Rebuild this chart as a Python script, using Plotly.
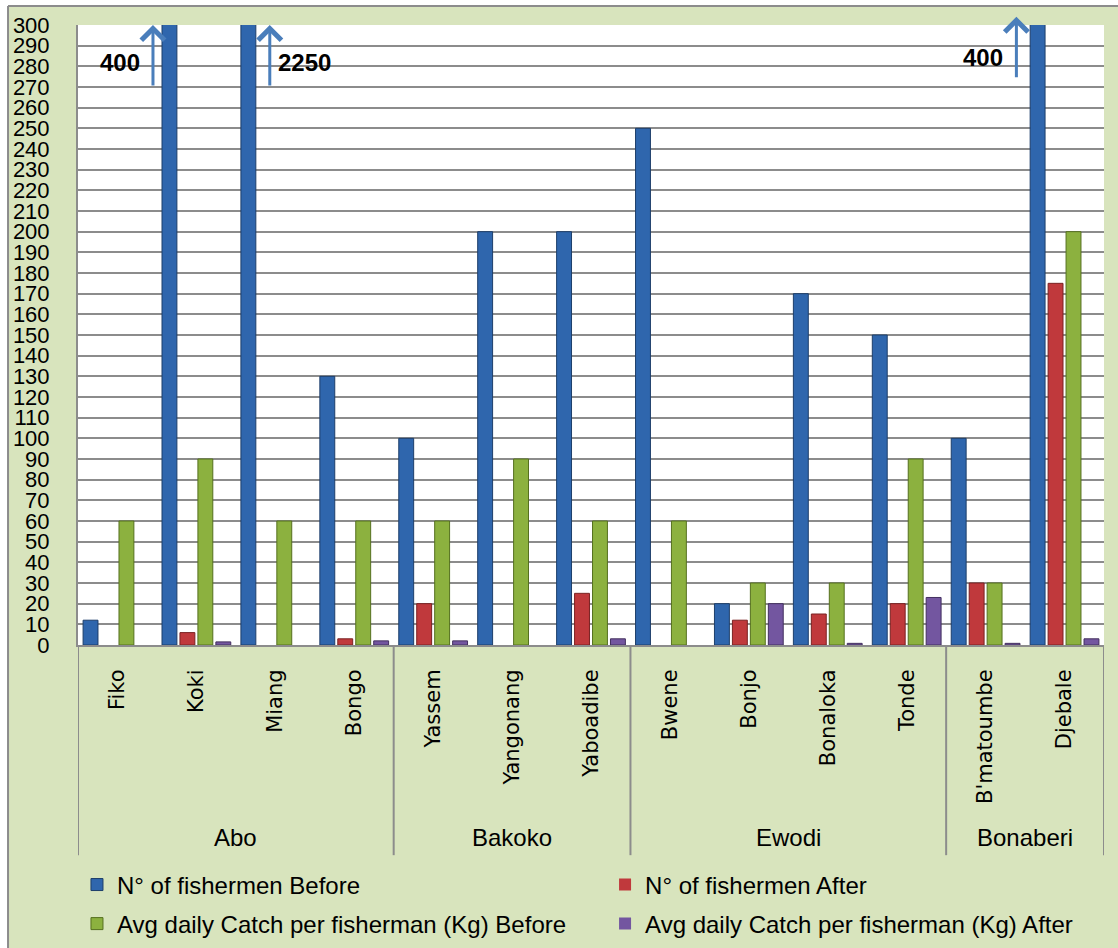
import plotly.graph_objects as go

# ---------------- data ----------------
groups = ["Abo", "Bakoko", "Ewodi", "Bonaberi"]
group_sizes = [4, 3, 4, 2]
villages = ["Fiko", "Koki", "Miang", "Bongo", "Yassem", "Yangonang", "Yaboadibe",
            "Bwene", "Bonjo", "Bonaloka", "Tonde", "B'matoumbe", "Djebale"]
fishermen_before = [12, 400, 2250, 130, 100, 200, 200, 250, 20, 170, 150, 100, 400]
fishermen_after = [0, 6, 0, 3, 20, 0, 25, 0, 12, 15, 20, 30, 175]
catch_before = [60, 90, 60, 60, 60, 90, 60, 60, 30, 30, 90, 30, 200]
catch_after = [0, 1.5, 0, 2, 2, 0, 3, 0, 20, 0.8, 23, 0.8, 3]
y_ticks = list(range(0, 301, 10))

series_names = ["N° of fishermen Before", "N° of fishermen After",
                "Avg daily Catch per fisherman (Kg) Before",
                "Avg daily Catch per fisherman (Kg) After"]
series_values = [fishermen_before, fishermen_after, catch_before, catch_after]
colors = ["#2f66ad", "#c0393c", "#8cb13f", "#7356a0"]
edge_colors = ["#1d3e6a", "#7a2222", "#55701f", "#43305f"]
legend_ids = ["legend", "legend2", "legend3", "legend4"]
legend_pos = [(-0.001, -0.387), (0.5137, -0.387), (-0.001, -0.45), (0.5137, -0.45)]

# off-scale labels: (x position in category units, tip y, tail y, label x, label y, text)
offscale = [
    (0.45, 300, 270, 0.03, 282, "400"),
    (1.93, 300, 270, 2.37, 282, "2250"),
    (11.39, 304, 274, 10.97, 284.5, "400"),
]

GRID = "#8c8c8c"
BG = "#d8e4bd"
TXT_FONT = "Liberation Sans, Arial"

fig = go.Figure()
for name, vals, c, ec, lg in zip(series_names, series_values, colors, edge_colors, legend_ids):
    fig.add_trace(go.Bar(
        x=villages, y=vals, name=name, legend=lg,
        marker=dict(color=c, line=dict(color=ec, width=[1 if v else 0 for v in vals])),
    ))

shapes = []
annotations = []

# group dividers and labels
bounds = [0]
for s in group_sizes:
    bounds.append(bounds[-1] + s)
for b in bounds:
    shapes.append(dict(type="line", xref="x", yref="paper", x0=b - 0.5, x1=b - 0.5,
                       y0=0, y1=-0.339, line=dict(color=GRID, width=2), layer="above"))
for g, s, start in zip(groups, group_sizes, bounds[:-1]):
    annotations.append(dict(text=g, xref="x", yref="paper", x=start + (s - 1) / 2, y=-0.311,
                            showarrow=False, yanchor="middle",
                            font=dict(family=TXT_FONT, size=24, color="black")))

# arrows for off-scale bars
for ax_x, tip, tail, lx, ly, txt in offscale:
    annotations.append(dict(x=ax_x, y=tip, ax=ax_x, ay=tail, xref="x", yref="y",
                            axref="x", ayref="y", showarrow=True, arrowhead=4,
                            arrowsize=1.5, arrowwidth=3, arrowcolor="#4a7ebb", text=""))
    annotations.append(dict(x=lx, y=ly, xref="x", yref="y", text="<b>" + txt + "</b>",
                            showarrow=False,
                            font=dict(family=TXT_FONT, size=24, color="black")))

# outer white margin + frame border of the chart area
shapes += [
    dict(type="rect", xref="paper", yref="paper", x0=-0.2, x1=-0.0682, y0=-0.6, y1=1.2,
         fillcolor="white", line=dict(width=0), layer="below"),
    dict(type="rect", xref="paper", yref="paper", x0=-0.2, x1=1.2, y0=1.0306, y1=1.2,
         fillcolor="white", line=dict(width=0), layer="below"),
    dict(type="line", xref="paper", yref="paper", x0=-0.0682, x1=-0.0682, y0=-0.6, y1=1.0306,
         line=dict(color=GRID, width=2), layer="below"),
    dict(type="line", xref="paper", yref="paper", x0=-0.0682, x1=1.2, y0=1.0306, y1=1.0306,
         line=dict(color=GRID, width=2), layer="below"),
]

legends = {}
for lg, (lx, ly) in zip(legend_ids, legend_pos):
    legends[lg] = dict(orientation="h", xanchor="left", yanchor="middle", x=lx, y=ly,
                       bgcolor="rgba(0,0,0,0)",
                       font=dict(family=TXT_FONT, size=24, color="black"))

fig.update_layout(
    width=1118, height=948, autosize=False,
    margin=dict(l=78, r=14, t=25, b=303, autoexpand=False),
    paper_bgcolor=BG, plot_bgcolor="white",
    barmode="group", bargap=0.09, bargroupgap=0.17,
    shapes=shapes, annotations=annotations,
    showlegend=True,
    xaxis=dict(range=[-0.5, len(villages) - 0.5], tickangle=-90, ticks="",
               tickfont=dict(family="DejaVu Sans", size=21, color="black"),
               ticklabelstandoff=14, showgrid=False, showline=True, automargin=False,
               linecolor=GRID, linewidth=2, fixedrange=True),
    yaxis=dict(range=[0, 300], tickvals=y_ticks, ticks="", showgrid=True,
               gridcolor=GRID, gridwidth=2, zeroline=False, showline=True,
               linecolor=GRID, linewidth=2, ticklabelstandoff=22, automargin=False,
               tickfont=dict(family=TXT_FONT, size=22, color="black"),
               fixedrange=True),
    **legends,
)

fig.write_html("out.html")
